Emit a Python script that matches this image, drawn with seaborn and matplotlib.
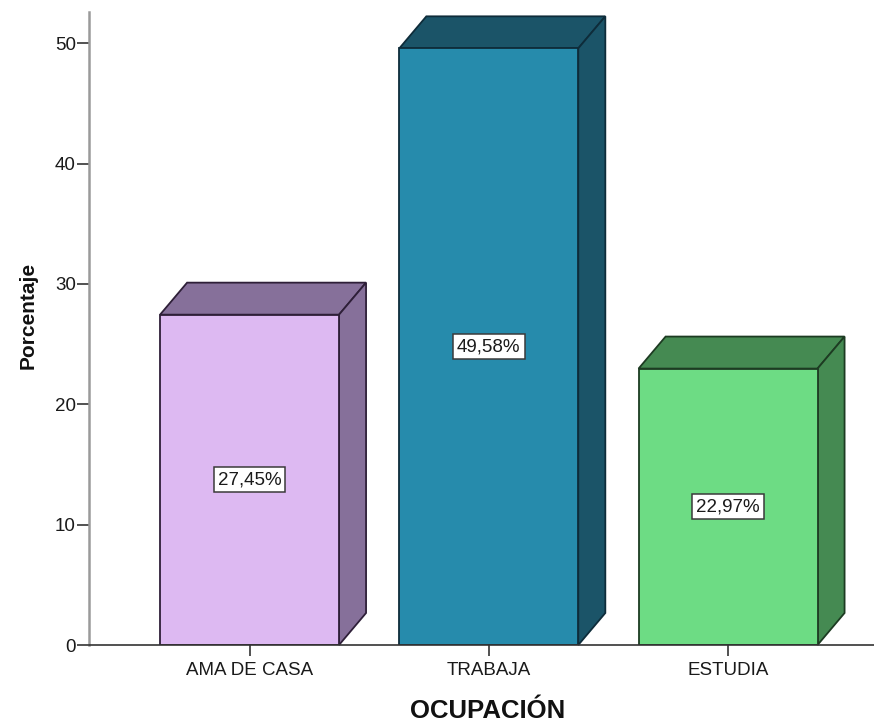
import matplotlib
matplotlib.use("Agg")
import matplotlib.pyplot as plt
from matplotlib.patches import Polygon
import seaborn as sns

# Occupation distribution (%)
categories = ["AMA DE CASA", "TRABAJA", "ESTUDIA"]
percentages = [27.45, 49.58, 22.97]
y_ticks = [0, 10, 20, 30, 40, 50]

front_colors = ["#DDB9F2", "#268BAC", "#6DDC84"]
shade_colors = ["#86709A", "#1B5468", "#458A52"]
edge_colors = ["#2E1F38", "#0E2C3A", "#1D3B22"]

sns.set_style("white")
plt.rcParams["font.family"] = ["Liberation Sans", "DejaVu Sans"]

fig = plt.figure(figsize=(8.74, 7.26), dpi=100)
ax = fig.add_axes([89 / 874, 81 / 726, 785 / 874, 633 / 726])

sns.barplot(x=categories, y=percentages, hue=categories, palette=front_colors,
            saturation=1, width=0.748, legend=False, ax=ax, zorder=3)

ax.set_xlim(-0.671, 2.61)
ax.set_ylim(0, 52.6)

# depth of the 3-D extrusion, in data units
dx, dy = 0.113, 2.66

for p in ax.patches[:]:
    x0, w, h = p.get_x(), p.get_width(), p.get_height()
    idx = int(round(x0 + w / 2))
    p.set_edgecolor(edge_colors[idx])
    p.set_linewidth(1.3)
    top = Polygon([(x0, h), (x0 + w, h), (x0 + w + dx, h + dy), (x0 + dx, h + dy)],
                  closed=True, facecolor=shade_colors[idx], edgecolor=edge_colors[idx],
                  linewidth=1.3, zorder=2, clip_on=False)
    side = Polygon([(x0 + w, 0), (x0 + w + dx, dy), (x0 + w + dx, h + dy), (x0 + w, h)],
                   closed=True, facecolor=shade_colors[idx], edgecolor=edge_colors[idx],
                   linewidth=1.3, zorder=2, clip_on=False)
    ax.add_patch(top)
    ax.add_patch(side)

# value labels in boxes at mid-height of each bar
for i, v in enumerate(percentages):
    ax.text(i, v / 2, f"{v:.2f}%".replace(".", ","), ha="center", va="center",
            fontsize=13.5, color="#1a1a1a", zorder=5,
            bbox=dict(boxstyle="square,pad=0.22", facecolor="white",
                      edgecolor="#3a3a3a", linewidth=1.1))

ax.set_yticks(y_ticks)
ax.set_yticklabels([str(t) for t in y_ticks])
ax.tick_params(axis="y", direction="out", length=8.5, width=1.1, color="#222222",
               labelsize=13.5, pad=1, left=True, labelcolor="#1a1a1a")
ax.tick_params(axis="x", direction="out", length=8, width=1.1, color="#222222",
               labelsize=13.5, pad=4, bottom=True, labelcolor="#1a1a1a")

for s in ["top", "right"]:
    ax.spines[s].set_visible(False)
ax.spines["left"].set_color("#9a9a9a")
ax.spines["left"].set_linewidth(1.8)
ax.spines["bottom"].set_color("#333333")
ax.spines["bottom"].set_linewidth(1.2)
ax.spines["bottom"].set_zorder(4)

ax.set_ylabel("Porcentaje", fontsize=15, fontweight="bold", color="#111111")
ax.yaxis.label.set_va("center")
ax.yaxis.set_label_coords(-0.0777, 0.521)
ax.set_xlabel("OCUPACIÓN", fontsize=18.5, fontweight="bold", color="#111111")
ax.xaxis.label.set_va("center")
ax.xaxis.set_label_coords(0.508, -0.104)

fig.savefig("out.png", dpi=100)
